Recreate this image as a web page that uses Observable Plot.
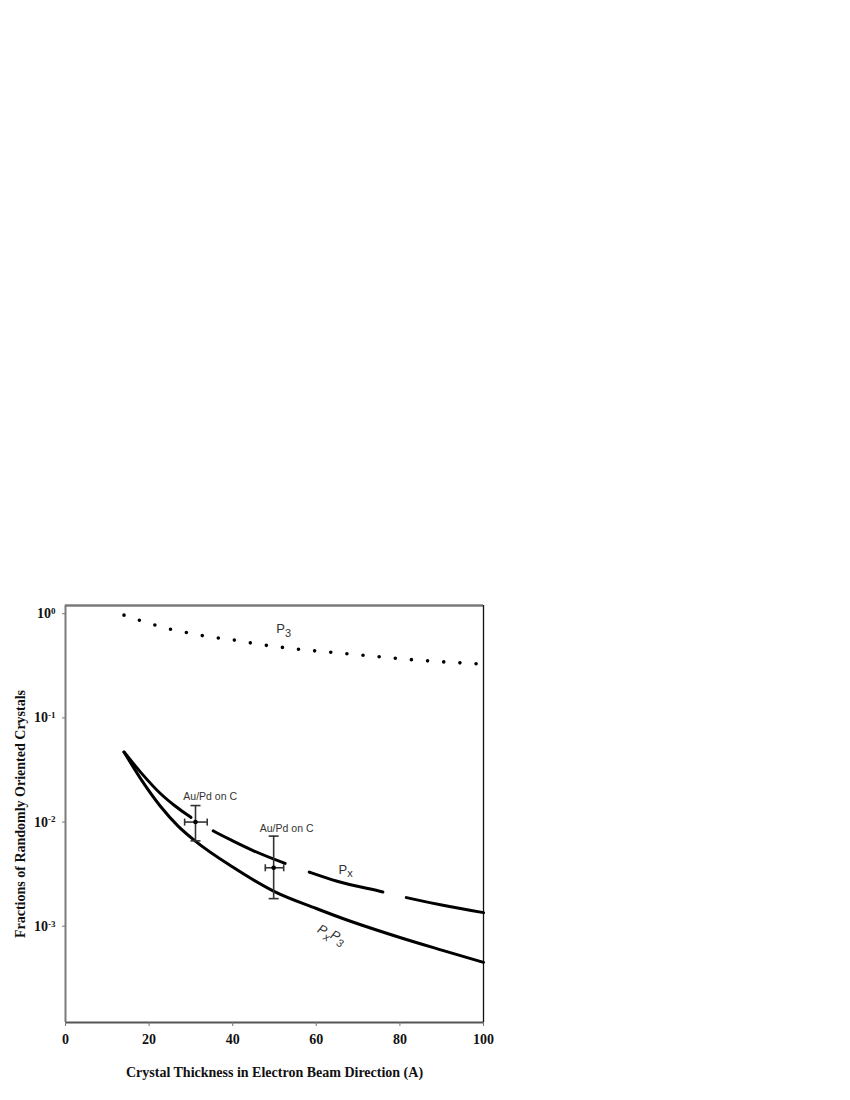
<!DOCTYPE html>
<html>
<head>
<meta charset="utf-8">
<script src="https://cdn.jsdelivr.net/npm/d3@7"></script>
<script src="https://cdn.jsdelivr.net/npm/@observablehq/plot@0.6"></script>
<style>
  body { margin: 0; background: #fff; }
</style>
</head>
<body>
<div id="chart"></div>
<script>
// ---- data ----
const xTicks = [0, 20, 40, 60, 80, 100];
const yTicks = [1, 0.1, 0.01, 0.001];
const xDomain = [0, 100];
const yDomain = [1.19e-4, 1.2];

// P3 (dotted)
const p3X = [14, 17.9, 21.8, 25.7, 29.5, 33.4, 41.1, 45, 56.6, 64.4, 72, 83.7, 91.5, 100];
const p3Y = [0.97, 0.86, 0.77, 0.70, 0.653, 0.61, 0.553, 0.519, 0.453, 0.423, 0.397, 0.36, 0.343, 0.328];

// Px (long dashes)
const pxX = [14, 18, 22.7, 26, 30, 35.4, 40, 45, 52.6, 58.4, 65, 76, 81.6, 90, 100];
const pxY = [0.047, 0.030, 0.0188, 0.0145, 0.0111, 0.0082, 0.0066, 0.0053, 0.0040, 0.0033, 0.0027, 0.00213, 0.00188, 0.0016, 0.00135];

// Px*P3 (solid)
const pxp3X = [14, 18, 22.7, 27, 31, 40, 50, 60, 66, 80, 90, 100];
const pxp3Y = [0.047, 0.026, 0.0142, 0.0091, 0.0066, 0.0037, 0.00215, 0.00148, 0.0012, 0.00078, 0.00059, 0.00045];

// measurements with error bars (Au/Pd on C)
const errX = [31.1, 49.8];
const errY = [0.0100, 0.00364];
const errXLo = [28.5, 47.8];
const errXHi = [33.9, 52.2];
const errYLo = [0.0066, 0.00184];
const errYHi = [0.0144, 0.00733];

// annotations
const noteText = ["Au/Pd on C", "Au/Pd on C"];
const noteX = [34.6, 52.9];
const noteY = [0.0176, 0.00868];

const seriesLabels = ["P_3", "P_x"];
const seriesLabelX = [52.2, 67.0];
const seriesLabelY = [0.72, 0.00351];

const prodLabel = ["P_xP_3"];
const prodLabelX = [63.6];
const prodLabelY = [0.00083];

const xLabel = "Crystal Thickness in Electron Beam Direction (A)";
const yLabel = "Fractions of Randomly Oriented Crystals";

// ---- build rows ----
const rows = (xs, ys) => xs.map((x, i) => ({x, y: ys[i]}));
const err = errX.map((x, i) => ({x, y: errY[i], x1: errXLo[i], x2: errXHi[i], y1: errYLo[i], y2: errYHi[i]}));
const notes = noteText.map((t, i) => ({t, x: noteX[i], y: noteY[i]}));
const sLabels = seriesLabels.map((t, i) => ({t, x: seriesLabelX[i], y: seriesLabelY[i]}));
const pLabels = prodLabel.map((t, i) => ({t, x: prodLabelX[i], y: prodLabelY[i]}));

const hCap = {draw(ctx, size) { const r = Math.sqrt(size / Math.PI); ctx.moveTo(-r, 0); ctx.lineTo(r, 0); }};
const vCap = {draw(ctx, size) { const r = Math.sqrt(size / Math.PI); ctx.moveTo(0, -r); ctx.lineTo(0, r); }};

const serif = "'Liberation Serif', 'Times New Roman', serif";
const sans = "'Liberation Sans', Arial, sans-serif";

const chart = Plot.plot({
  width: 850,
  height: 1100,
  marginTop: 605,
  marginLeft: 65,
  marginRight: 367,
  marginBottom: 78,
  style: {fontFamily: serif, fontWeight: "bold", fontSize: "14px", background: "#fff"},
  x: {domain: xDomain},
  y: {type: "log", domain: yDomain},
  marks: [
    // frame
    Plot.ruleY([yDomain[1]], {stroke: "#7a7a7a", strokeWidth: 2.5}),
    Plot.ruleY([yDomain[0]], {stroke: "#555", strokeWidth: 1.8}),
    Plot.ruleX([xDomain[0]], {stroke: "#7a7a7a", strokeWidth: 2}),
    Plot.ruleX([xDomain[1]], {stroke: "#111", strokeWidth: 1.3}),
    // axes
    Plot.axisX(xTicks, {tickSize: 4, tickPadding: 8, stroke: "#777", fill: "#111", fontSize: 14, fontWeight: "bold", fontFamily: serif, label: null}),
    Plot.axisY(yTicks, {tickSize: 3, tickPadding: 7, stroke: "#777", fill: "#111", fontSize: 14, fontWeight: "bold", fontFamily: serif, label: null,
      tickFormat: d => "10^" + Math.round(Math.log10(d))}),
    Plot.text([xLabel], {frameAnchor: "bottom", dy: 54, text: d => d, fontSize: 14, fontWeight: "bold", fontFamily: serif, fill: "#111"}),
    Plot.text([yLabel], {frameAnchor: "left", textAnchor: "middle", dx: -45, rotate: -90, text: d => d, fontSize: 14, fontWeight: "bold", fontFamily: serif, fill: "#111"}),
    // curves
    Plot.line(rows(p3X, p3Y), {x: "x", y: "y", curve: "monotone-x", stroke: "#000", strokeWidth: 3.6, strokeLinecap: "round", strokeDasharray: "0 16.2"}),
    Plot.line(rows(pxp3X, pxp3Y), {x: "x", y: "y", curve: "monotone-x", stroke: "#000", strokeWidth: 3}),
    Plot.line(rows(pxX, pxY), {x: "x", y: "y", curve: "monotone-x", stroke: "#000", strokeWidth: 3, strokeDasharray: "94 26 79 25.7 76.3 24.1 300"}),
    // error bars
    Plot.ruleX(err, {x: "x", y1: "y1", y2: "y2", stroke: "#333", strokeWidth: 1.6}),
    Plot.ruleY(err, {y: "y", x1: "x1", x2: "x2", stroke: "#333", strokeWidth: 1.6}),
    Plot.dot(err, {x: "x", y: "y1", symbol: hCap, r: 5, stroke: "#333", strokeWidth: 1.6, fill: "none"}),
    Plot.dot(err, {x: "x", y: "y2", symbol: hCap, r: 5, stroke: "#333", strokeWidth: 1.6, fill: "none"}),
    Plot.dot(err, {x: "x1", y: "y", symbol: vCap, r: 3.5, stroke: "#333", strokeWidth: 1.6, fill: "none"}),
    Plot.dot(err, {x: "x2", y: "y", symbol: vCap, r: 3.5, stroke: "#333", strokeWidth: 1.6, fill: "none"}),
    Plot.dot(err, {x: "x", y: "y", r: 2.3, fill: "#000", stroke: "none"}),
    // annotations
    Plot.text(notes, {x: "x", y: "y", text: "t", fontSize: 10.5, fontWeight: "normal", fontFamily: sans, fill: "#333"}),
    Plot.text(sLabels, {x: "x", y: "y", text: "t", fontSize: 13, fontWeight: "normal", fontFamily: sans, fill: "#333"}),
    Plot.text(pLabels, {x: "x", y: "y", text: "t", rotate: 27, fontSize: 13, fontWeight: "normal", fontStyle: "italic", fontFamily: sans, fill: "#333"})
  ]
});

document.getElementById("chart").appendChild(chart);

// superscripts and subscripts as real tspans
d3.select(chart).selectAll("text").each(function() {
  const el = d3.select(this);
  const t = this.textContent;
  let m = /^10\^(-?\d+)$/.exec(t);
  if (m) {
    el.text("10");
    el.append("tspan").attr("dy", "-0.45em").attr("font-size", "9px").text(m[1]);
    return;
  }
  if (t.includes("_")) {
    const parts = t.split(/(_\w)/).filter(s => s.length);
    el.text("");
    let sub = false;
    for (const p of parts) {
      if (p.startsWith("_")) {
        el.append("tspan").attr("dy", "0.35em").attr("font-size", "11px").text(p.slice(1));
        sub = true;
      } else {
        el.append("tspan").attr("dy", sub ? "-0.35em" : null).text(p);
        sub = false;
      }
    }
  }
});
</script>
</body>
</html>
